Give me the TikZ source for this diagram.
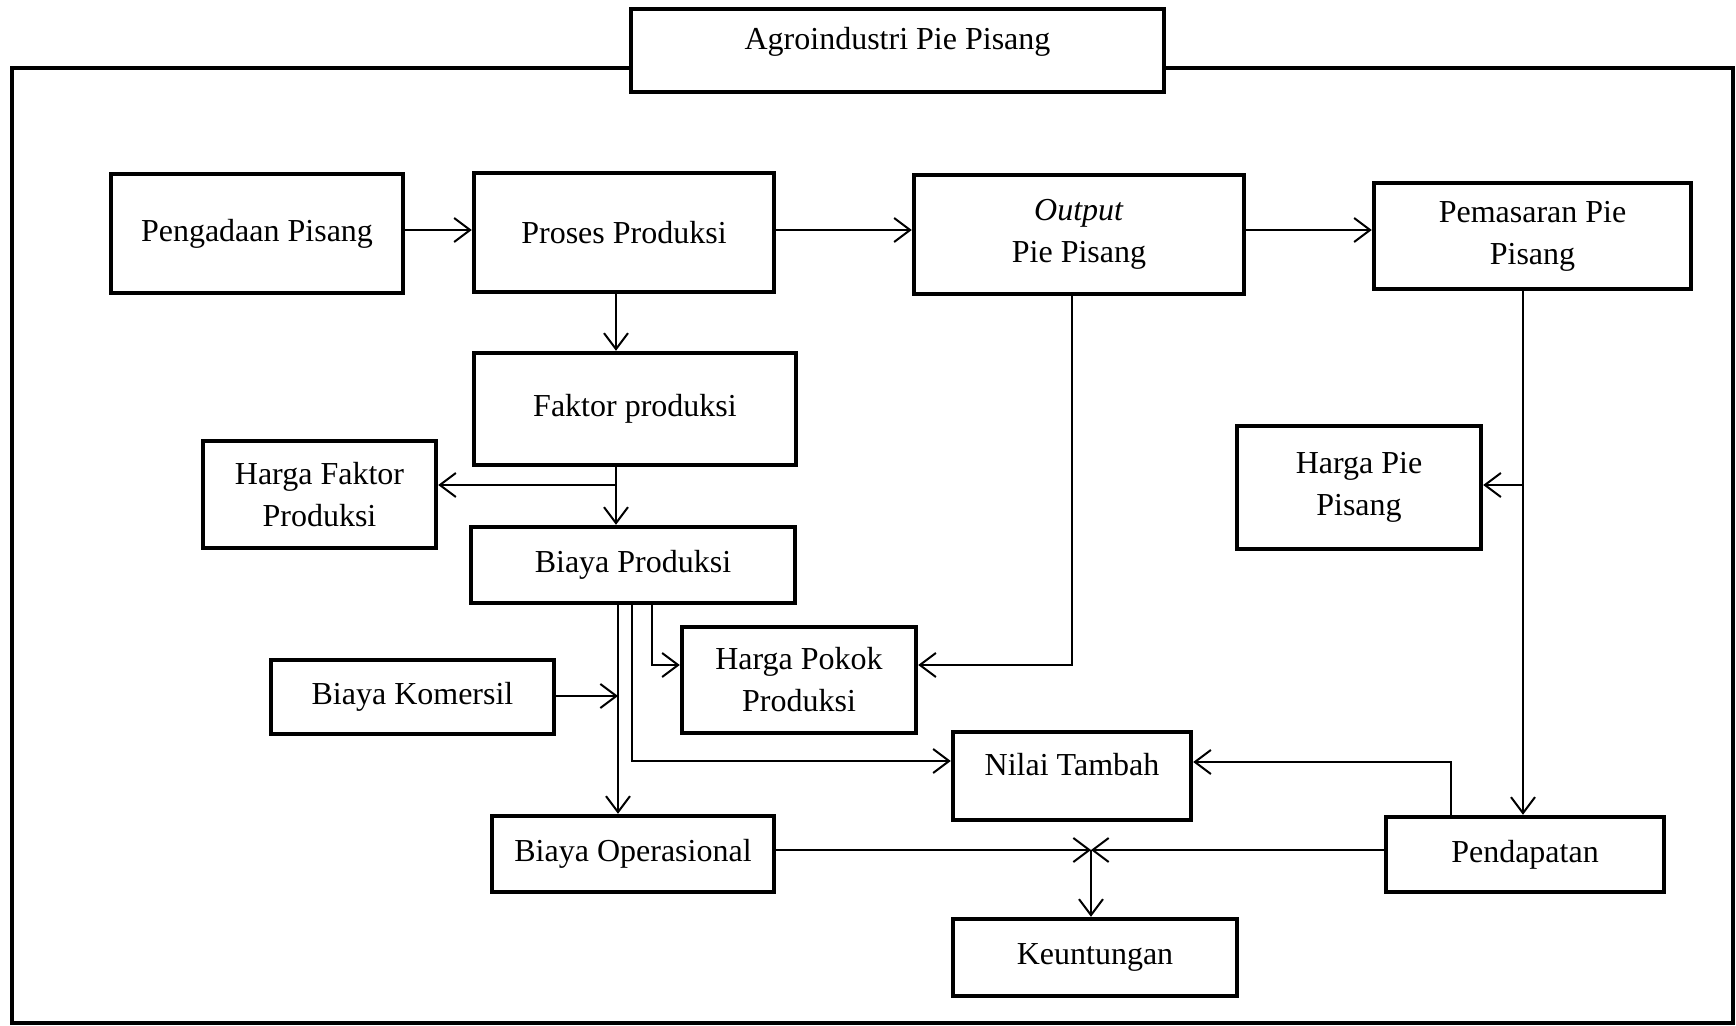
\documentclass[tikz,border=0pt]{standalone}
\usepackage{fontspec}
\setmainfont{Liberation Serif}
\usetikzlibrary{arrows.meta}
\begin{document}
\begin{tikzpicture}[x=0.5pt,y=-0.5pt,
  box/.style={draw,line width=2.2pt,align=center,inner sep=0pt,font=\fontsize{16}{21}\selectfont},
  conn/.style={line width=1pt,-{Straight Barb[length=8pt,width=12pt,line width=1pt]}},
  plain/.style={line width=1pt}]
\useasboundingbox (0,0) rectangle (1736,1026);
% outer frame
\draw[line width=2.2pt] (12,68) rectangle (1733,1023);
% title
\node[box,fill=white,minimum width=266.5pt,minimum height=41.5pt,text height=11pt,text depth=12pt] (title) at (897.5,50.5) {Agroindustri Pie Pisang};
% boxes
\node[box,minimum width=146pt,minimum height=59.5pt] (peng) at (257,233.5) {Pengadaan Pisang};
\node[box,minimum width=150pt,minimum height=59.5pt] (proses) at (624,232.5) {Proses Produksi};
\node[box,minimum width=165pt,minimum height=59.5pt] (output) at (1079,234.5) {\textit{Output}\\Pie Pisang};
\node[box,minimum width=158.5pt,minimum height=53pt] (pemas) at (1532.5,236) {Pemasaran Pie\\Pisang};
\node[box,minimum width=161pt,minimum height=56pt] (faktor) at (635,409) {Faktor produksi};
\node[box,minimum width=116.5pt,minimum height=53.5pt] (hfaktor) at (319.5,494.5) {Harga Faktor\\Produksi};
\node[box,minimum width=162pt,minimum height=38pt] (bprod) at (633,565) {Biaya Produksi};
\node[box,minimum width=122pt,minimum height=61.5pt] (hpie) at (1359,487.5) {Harga Pie\\Pisang};
\node[box,minimum width=117pt,minimum height=53pt] (hpokok) at (799,680) {Harga Pokok\\Produksi};
\node[box,minimum width=141.5pt,minimum height=37pt] (komersil) at (412.5,697) {Biaya Komersil};
\node[box,minimum width=119pt,minimum height=44pt,text depth=12pt] (nilai) at (1072,776) {Nilai Tambah};
\node[box,minimum width=141pt,minimum height=38pt] (bop) at (633,854) {Biaya Operasional};
\node[box,minimum width=139pt,minimum height=37.5pt] (pend) at (1525,854.5) {Pendapatan};
\node[box,minimum width=142pt,minimum height=38.5pt] (keunt) at (1095,957.5) {Keuntungan};
% coordinates
\coordinate (jn) at (1091,850);
% top row
\draw[conn] (peng.east|-0,230) -- (proses.west|-0,230);
\draw[conn] (proses.east|-0,230) -- (output.west|-0,230);
\draw[conn] (output.east|-0,230) -- (pemas.west|-0,230);
% proses -> faktor -> biaya
\draw[conn] (proses.south-|616,0) -- (faktor.north-|616,0);
\draw[conn] (faktor.south-|616,0) -- (bprod.north-|616,0);
\draw[conn] (616,485) -- (hfaktor.east|-0,485);
% output -> harga pokok
\draw[conn] (output.south-|1072,0) -- (1072,665) -- (hpokok.east|-0,665);
% pemasaran -> pendapatan, harga pie
\draw[conn] (pemas.south-|1523,0) -- (pend.north-|1523,0);
\draw[conn] (1523,485) -- (hpie.east|-0,485);
% biaya produksi branches
\draw[conn] (bprod.south-|618,0) -- (bop.north-|618,0);
\draw[conn] (bprod.south-|632,0) -- (632,761) -- (nilai.west|-0,761);
\draw[conn] (bprod.south-|652,0) -- (652,665) -- (hpokok.west|-0,665);
\draw[conn] (komersil.east|-0,696) -- (618,696);
% pendapatan -> nilai tambah
\draw[conn] (pend.north-|1451,0) -- (1451,762) -- (nilai.east|-0,762);
% to keuntungan
\draw[conn] (bop.east|-jn) -- (jn);
\draw[conn] (pend.west|-jn) -- (jn);
\draw[conn] (jn) -- (keunt.north-|jn);
\end{tikzpicture}
\end{document}
